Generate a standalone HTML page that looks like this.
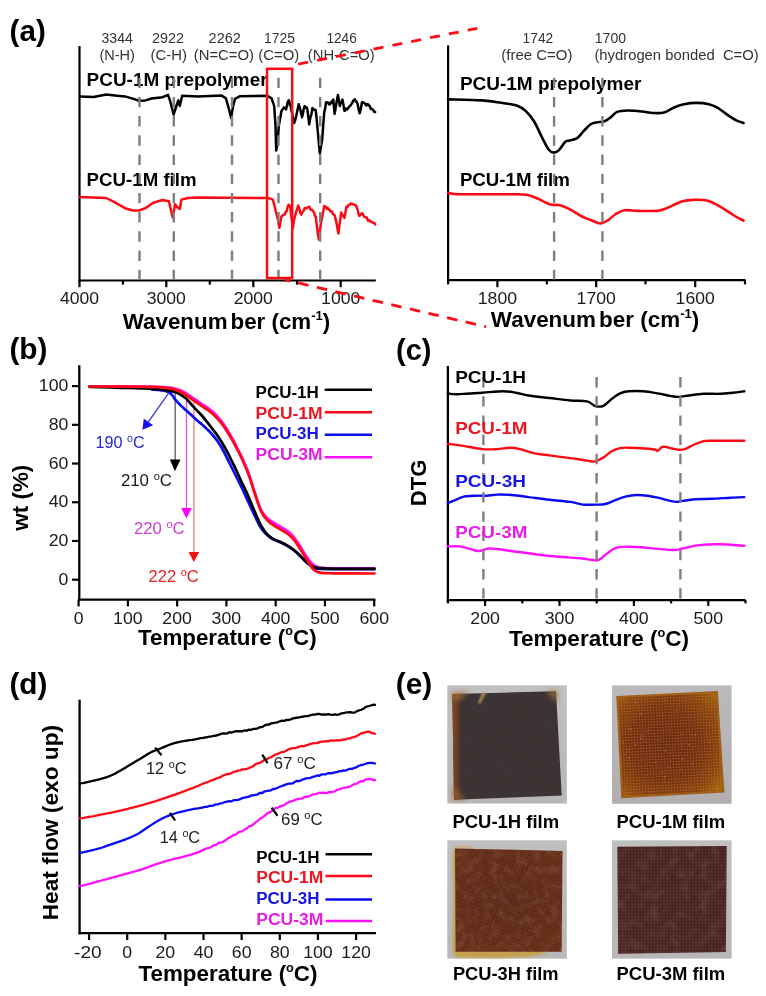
<!DOCTYPE html>
<html><head><meta charset="utf-8"><title>figure</title><style>
html,body{margin:0;padding:0;background:#fff;width:766px;height:996px;overflow:hidden;}
svg{display:block;will-change:transform;}
text{font-family:"Liberation Sans",sans-serif;}
</style></head><body>
<svg width="766" height="996" viewBox="0 0 766 996">
<defs><filter id="blur1" x="-10%" y="-10%" width="120%" height="120%"><feGaussianBlur stdDeviation="0.8"/></filter>
<filter id="blur3" x="-30%" y="-30%" width="160%" height="160%"><feGaussianBlur stdDeviation="2.5"/></filter>
<filter id="soft" x="-5%" y="-5%" width="110%" height="110%"><feGaussianBlur stdDeviation="0.5"/></filter>
<filter id="tex" x="0" y="0" width="100%" height="100%"><feTurbulence type="fractalNoise" baseFrequency="0.35" numOctaves="2" seed="7"/><feColorMatrix type="matrix" values="0 0 0 0 1  0 0 0 0 0.85  0 0 0 0 0.75  0 0 0 1.6 -0.95"/></filter>
<filter id="mottle3" x="0" y="0" width="100%" height="100%"><feTurbulence type="fractalNoise" baseFrequency="0.12" numOctaves="3" seed="5"/><feColorMatrix type="matrix" values="0 0 0 0 0.7  0 0 0 0 0.45  0 0 0 0 0.35  2.2 0 0 0 -0.95"/></filter>
<filter id="mottle4" x="0" y="0" width="100%" height="100%"><feTurbulence type="fractalNoise" baseFrequency="0.1" numOctaves="3" seed="9"/><feColorMatrix type="matrix" values="0 0 0 0 0.6  0 0 0 0 0.4  0 0 0 0 0.4  2.2 0 0 0 -0.95"/></filter>
<filter id="mottle1" x="0" y="0" width="100%" height="100%"><feTurbulence type="fractalNoise" baseFrequency="0.15" numOctaves="2" seed="2"/><feColorMatrix type="matrix" values="0 0 0 0 0.45  0 0 0 0 0.38  0 0 0 0 0.4  2.4 0 0 0 -1.1"/></filter>
<clipPath id="c1"><path d="M452.3 694 L556 691.2 L561.7 795.6 L454 799.7 Z"/></clipPath>
<clipPath id="c3"><path d="M455 848.4 L562.5 850.9 L561.7 951.7 L455.6 951.7 Z"/></clipPath>
<clipPath id="c4"><path d="M617.3 846.8 L726.7 846 L725.9 952 L618.2 953.7 Z"/></clipPath>
<pattern id="dots2" width="2.9" height="2.9" patternUnits="userSpaceOnUse" patternTransform="rotate(-2.5)"><circle cx="1.45" cy="1.45" r="0.72" fill="#e09a5a" fill-opacity="0.5"/></pattern>
<pattern id="grid4" width="3.2" height="3.2" patternUnits="userSpaceOnUse"><circle cx="1.6" cy="1.6" r="0.75" fill="#7e5048" fill-opacity="0.5"/></pattern>
<pattern id="grid3" width="3.6" height="3.6" patternUnits="userSpaceOnUse" patternTransform="rotate(20)"><circle cx="1.8" cy="1.8" r="0.7" fill="#a06048" fill-opacity="0.4"/></pattern>
<pattern id="grid1" width="3.6" height="3.6" patternUnits="userSpaceOnUse" patternTransform="rotate(35)"><circle cx="1.8" cy="1.8" r="0.7" fill="#5e5256" fill-opacity="0.4"/></pattern>
<linearGradient id="bgg" x1="0" y1="0" x2="0" y2="1"><stop offset="0" stop-color="#c0c0c0"/><stop offset="1" stop-color="#b8b6b6"/></linearGradient>
<linearGradient id="bgg2" x1="0" y1="0" x2="0" y2="1"><stop offset="0" stop-color="#bcb9bd"/><stop offset="1" stop-color="#b2aeb0"/></linearGradient>
<linearGradient id="f1l" x1="0" y1="0" x2="1" y2="0"><stop offset="0" stop-color="#8a4a1c" stop-opacity="0.95"/><stop offset="0.04" stop-color="#7a401e" stop-opacity="0.8"/><stop offset="0.1" stop-color="#4a3430" stop-opacity="0"/></linearGradient>
<radialGradient id="f2r" cx="0.45" cy="0.5" r="0.66"><stop offset="0" stop-color="#6a2a12"/><stop offset="0.5" stop-color="#74300f"/><stop offset="0.8" stop-color="#8a440e"/><stop offset="1" stop-color="#a2600e"/></radialGradient>
<radialGradient id="f3r" cx="0.5" cy="0.5" r="0.7"><stop offset="0" stop-color="#5c2a1a"/><stop offset="1" stop-color="#662e18"/></radialGradient></defs>
<rect width="766" height="996" fill="#fff"/>
<text x="9.6" y="40.5" font-size="30" fill="#000" font-weight="bold" textLength="36.2" lengthAdjust="spacingAndGlyphs" >(a)</text>
<line x1="79.5" y1="46" x2="79.5" y2="281.6" stroke="#000" stroke-width="2.2" />
<line x1="78.4" y1="280.5" x2="375.8" y2="280.5" stroke="#000" stroke-width="2.2" />
<line x1="79.5" y1="280.5" x2="79.5" y2="287.2" stroke="#000" stroke-width="2.2" />
<line x1="166.3" y1="280.5" x2="166.3" y2="287.2" stroke="#000" stroke-width="2.2" />
<line x1="253.3" y1="280.5" x2="253.3" y2="287.2" stroke="#000" stroke-width="2.2" />
<line x1="340.7" y1="280.5" x2="340.7" y2="287.2" stroke="#000" stroke-width="2.2" />
<line x1="122.9" y1="280.5" x2="122.9" y2="284.6" stroke="#000" stroke-width="2.2" />
<line x1="209.8" y1="280.5" x2="209.8" y2="284.6" stroke="#000" stroke-width="2.2" />
<line x1="297" y1="280.5" x2="297" y2="284.6" stroke="#000" stroke-width="2.2" />
<text x="79.5" y="304.4" font-size="16.5" fill="#1a1a1a" text-anchor="middle" textLength="39.2" lengthAdjust="spacingAndGlyphs" >4000</text>
<text x="166.3" y="304.4" font-size="16.5" fill="#1a1a1a" text-anchor="middle" textLength="39.2" lengthAdjust="spacingAndGlyphs" >3000</text>
<text x="253.3" y="304.4" font-size="16.5" fill="#1a1a1a" text-anchor="middle" textLength="39.2" lengthAdjust="spacingAndGlyphs" >2000</text>
<text x="340.7" y="304.4" font-size="16.5" fill="#1a1a1a" text-anchor="middle" textLength="39.2" lengthAdjust="spacingAndGlyphs" >1000</text>
<text x="117.2" y="42.8" font-size="14" fill="#333" text-anchor="middle" textLength="31.3" lengthAdjust="spacingAndGlyphs" >3344</text>
<text x="117.2" y="60" font-size="14" fill="#333" text-anchor="middle" textLength="35.5" lengthAdjust="spacingAndGlyphs" >(N-H)</text>
<text x="168" y="42.8" font-size="14" fill="#333" text-anchor="middle" textLength="32" lengthAdjust="spacingAndGlyphs" >2922</text>
<text x="168.8" y="60" font-size="14" fill="#333" text-anchor="middle" textLength="36.4" lengthAdjust="spacingAndGlyphs" >(C-H)</text>
<text x="224.7" y="42.8" font-size="14" fill="#333" text-anchor="middle" textLength="32.2" lengthAdjust="spacingAndGlyphs" >2262</text>
<text x="223.9" y="60" font-size="14" fill="#333" text-anchor="middle" textLength="60.3" lengthAdjust="spacingAndGlyphs" >(N=C=O)</text>
<text x="279.4" y="42.8" font-size="14" fill="#333" text-anchor="middle" textLength="31" lengthAdjust="spacingAndGlyphs" >1725</text>
<text x="278.7" y="60" font-size="14" fill="#333" text-anchor="middle" textLength="40.9" lengthAdjust="spacingAndGlyphs" >(C=O)</text>
<text x="341.6" y="42.8" font-size="14" fill="#333" text-anchor="middle" textLength="30.3" lengthAdjust="spacingAndGlyphs" >1246</text>
<text x="341.3" y="60" font-size="14" fill="#333" text-anchor="middle" textLength="67" lengthAdjust="spacingAndGlyphs" >(NH-C=O)</text>
<text x="86.6" y="86.2" font-size="17.5" fill="#000" font-weight="bold" textLength="181" lengthAdjust="spacingAndGlyphs" >PCU-1M prepolymer</text>
<text x="86.6" y="186.4" font-size="17.5" fill="#000" font-weight="bold" textLength="110" lengthAdjust="spacingAndGlyphs" >PCU-1M film</text>
<path d="M80 96.5 L93.7 96.9 L106.2 94.4 L117.2 95.7 L125 96.4 L134.4 99.1 L139.1 100.7 L145.4 100.4 L151.6 98.5 L162.6 97.2 L168.1 94.9 L170.4 101.9 L173.6 114.5 L176.7 105 L178.3 100.4 L179.8 105.8 L182.2 95.7 L198 96.4 L221.3 95.4 L225.9 98.3 L229.2 110 L231.1 117.9 L233.1 106.1 L235 98.9 L239.6 96.3 L267 95.7 L271.6 98.3 L274.2 106.1 L275.5 125.7 L276.2 150.5 L277.7 141.4 L278.8 125.7 L281.4 111.3 L284 107.4 L285 107.66 L286 109.4 L286.95 105.87 L287.9 101.5 L288.9 100.2 L289.9 104.1 L290.9 107.4 L291.7 111.28 L292.5 114.63 L293.3 119.82 L294.1 123.1 L295.1 120.53 L296.1 116.6 L296.97 112.49 L297.83 108.34 L298.7 104.2 L299.52 106.87 L300.35 109.61 L301.18 113.67 L302 117.2 L302.87 113.69 L303.73 108.85 L304.6 106.1 L305.47 107.61 L306.33 107.24 L307.2 108.7 L308.2 115.96 L309.2 124.4 L310.27 117.96 L311.33 114.63 L312.4 108.1 L313.22 109.1 L314.05 109.88 L314.88 109.78 L315.7 110 L316.65 118.77 L317.6 129.6 L318.7 141.17 L319.8 153.5 L321 146.49 L322.2 139.5 L323.2 125.2 L324.2 112.6 L325.15 108.39 L326.1 102.2 L327.08 102.41 L328.05 102.44 L329.02 104.4 L330 104.2 L330.82 102.22 L331.65 102.84 L332.48 100.65 L333.3 99.6 L334.6 113.9 L335.43 109.29 L336.25 104.1 L337.07 99.69 L337.9 95 L338.85 99.86 L339.8 106.1 L340.67 102.92 L341.53 102.57 L342.4 99.6 L343.4 104.57 L344.4 110.7 L345.32 110.54 L346.24 108.5 L347.16 109.39 L348.08 108.45 L349 106.8 L349.83 106.29 L350.66 105.24 L351.49 103.76 L352.31 103.02 L353.14 100.61 L353.97 100.32 L354.8 99.3 L355.7 101.42 L356.6 101.44 L357.5 103.5 L358.6 109.33 L359.7 113.3 L360.85 108.6 L362 102.2 L362.82 102.41 L363.65 102.73 L364.48 103.33 L365.3 103.6 L366.12 105.35 L366.95 104.43 L367.78 104.05 L368.6 105.5 L369.41 105.42 L370.23 107.6 L371.04 109.02 L371.85 108.74 L372.66 109.54 L373.48 110.49 L374.29 111.73 L375.1 112" fill="none" stroke="#000" stroke-width="2.5" stroke-linejoin="round" stroke-linecap="round" />
<path d="M80 196.9 L106.2 198 L114 201.9 L125 208.2 L132.8 210.5 L139.1 210.5 L145.4 208.2 L153.2 202.7 L162.6 200 L168.9 201.2 L171.2 211.3 L172.8 217.6 L175.1 204.3 L177.5 207.4 L179.8 209 L181.4 199.6 L187.7 198 L198 197.5 L268.3 198 L272.9 199.6 L275.5 210 L278.1 220.5 L279.4 227.7 L281.4 216.6 L284 214.6 L284.87 214.51 L285.73 211.61 L286.6 211.3 L287.6 207 L288.6 204.8 L290.2 206.1 L291.07 214.6 L291.93 220.21 L292.8 228.3 L293.8 221.62 L294.8 216.6 L295.62 214.16 L296.45 210.71 L297.28 209.13 L298.1 205.5 L299.17 207.94 L300.23 212.58 L301.3 214.6 L302.12 212.58 L302.95 211.57 L303.78 210.68 L304.6 208.1 L305.58 208.18 L306.55 208.38 L307.52 207.58 L308.5 206.8 L309.42 206.71 L310.34 209.44 L311.26 209.7 L312.18 209.98 L313.1 211.3 L313.97 212.38 L314.83 215.6 L315.7 216.6 L316.7 224.38 L317.7 232.76 L318.7 239.4 L319.8 231.85 L320.9 223.1 L321.72 219.86 L322.55 214.75 L323.38 210.79 L324.2 206.1 L325.07 206.9 L325.93 206.67 L326.8 208.75 L327.67 207.89 L328.53 209.47 L329.4 209.4 L330.27 211.37 L331.13 211.67 L332 211.51 L332.87 213.98 L333.73 214.6 L334.6 215.2 L335.58 219.08 L336.55 223.36 L337.52 228.99 L338.5 233.5 L339.37 225.5 L340.23 220.5 L341.1 212.6 L341.93 213.94 L342.75 215.29 L343.57 216.38 L344.4 217.9 L345.4 212.7 L346.4 206.8 L347.27 207.17 L348.13 205.28 L349 204.87 L349.87 204.78 L350.73 203.6 L351.6 203.5 L352.5 204.11 L353.4 204.39 L354.3 204.55 L355.2 205.48 L356.1 205.5 L356.93 208.16 L357.75 209.79 L358.57 214.39 L359.4 215.9 L360.27 214.72 L361.13 214.02 L362 213.3 L362.82 213.99 L363.65 216.04 L364.48 216.99 L365.3 216.93 L366.12 217.58 L366.95 217.81 L367.78 220.47 L368.6 220.5 L369.41 220.26 L370.23 221.58 L371.04 221.63 L371.85 222.07 L372.66 222.62 L373.48 222.75 L374.29 222.89 L375.1 224.4" fill="none" stroke="#ff0a14" stroke-width="2.5" stroke-linejoin="round" stroke-linecap="round" />
<line x1="139.5" y1="77.7" x2="139.5" y2="279.5" stroke="#7f7f7f" stroke-width="2.4" stroke-dasharray="10.4 8.8" stroke-dashoffset="0"/>
<line x1="173.8" y1="77.7" x2="173.8" y2="279.5" stroke="#7f7f7f" stroke-width="2.4" stroke-dasharray="10.4 8.8" stroke-dashoffset="0"/>
<line x1="232" y1="77.7" x2="232" y2="279.5" stroke="#7f7f7f" stroke-width="2.4" stroke-dasharray="10.4 8.8" stroke-dashoffset="0"/>
<line x1="278.5" y1="77.7" x2="278.5" y2="279.5" stroke="#7f7f7f" stroke-width="2.4" stroke-dasharray="10.4 8.8" stroke-dashoffset="0"/>
<line x1="320.2" y1="77.7" x2="320.2" y2="279.5" stroke="#7f7f7f" stroke-width="2.4" stroke-dasharray="10.4 8.8" stroke-dashoffset="0"/>
<rect x="267" y="68.8" width="25.2" height="209.2" fill="none" stroke="#ff0a14" stroke-width="2.5"/>
<line x1="292.2" y1="65.3" x2="477.3" y2="28.3" stroke="#ff0a14" stroke-width="2.8" stroke-dasharray="10 9.2" stroke-dashoffset="13"/>
<line x1="285" y1="279.9" x2="486" y2="326.7" stroke="#ff0a14" stroke-width="2.8" stroke-dasharray="10.5 8.6" stroke-dashoffset="5.5"/>
<text x="122.8" y="328.8" font-size="22.3" fill="#000" font-weight="bold" textLength="207.5" lengthAdjust="spacingAndGlyphs" >Wavenum<tspan dx="3">ber</tspan> (cm<tspan font-size="13" dy="-9">-1</tspan><tspan dy="9">)</tspan></text>
<line x1="448.1" y1="45.4" x2="448.1" y2="281.3" stroke="#000" stroke-width="2.2" />
<line x1="447" y1="280.2" x2="745.5" y2="280.2" stroke="#000" stroke-width="2.2" />
<line x1="497.4" y1="280.2" x2="497.4" y2="287.2" stroke="#000" stroke-width="2.2" />
<line x1="596.2" y1="280.2" x2="596.2" y2="287.2" stroke="#000" stroke-width="2.2" />
<line x1="695.2" y1="280.2" x2="695.2" y2="287.2" stroke="#000" stroke-width="2.2" />
<line x1="448.1" y1="280.2" x2="448.1" y2="284.4" stroke="#000" stroke-width="2.2" />
<line x1="546.8" y1="280.2" x2="546.8" y2="284.4" stroke="#000" stroke-width="2.2" />
<line x1="645.5" y1="280.2" x2="645.5" y2="284.4" stroke="#000" stroke-width="2.2" />
<line x1="745" y1="280.2" x2="745" y2="284.4" stroke="#000" stroke-width="2.2" />
<text x="497.4" y="304.4" font-size="16.5" fill="#1a1a1a" text-anchor="middle" textLength="39.2" lengthAdjust="spacingAndGlyphs" >1800</text>
<text x="596.2" y="304.4" font-size="16.5" fill="#1a1a1a" text-anchor="middle" textLength="39.2" lengthAdjust="spacingAndGlyphs" >1700</text>
<text x="695.2" y="304.4" font-size="16.5" fill="#1a1a1a" text-anchor="middle" textLength="39.2" lengthAdjust="spacingAndGlyphs" >1600</text>
<text x="537.9" y="42.7" font-size="14" fill="#333" text-anchor="middle" textLength="30.7" lengthAdjust="spacingAndGlyphs" >1742</text>
<text x="536.9" y="60.2" font-size="14" fill="#333" text-anchor="middle" textLength="71.2" lengthAdjust="spacingAndGlyphs" >(free C=O)</text>
<text x="594.8" y="42.7" font-size="14" fill="#333" textLength="31.3" lengthAdjust="spacingAndGlyphs" >1700</text>
<text x="594.4" y="60.2" font-size="14" fill="#333" textLength="164.3" lengthAdjust="spacingAndGlyphs" >(hydrogen bonded&#160;&#160;C=O)</text>
<text x="459.9" y="90.2" font-size="17.5" fill="#000" font-weight="bold" textLength="181.5" lengthAdjust="spacingAndGlyphs" >PCU-1M prepolymer</text>
<text x="459.9" y="185.8" font-size="17.5" fill="#000" font-weight="bold" textLength="110" lengthAdjust="spacingAndGlyphs" >PCU-1M film</text>
<path d="M448 99.4 C453.63 99.57 472.68 99.8 481.8 100.4 C490.92 101 496.78 102.12 502.7 103 C508.62 103.88 513.48 104.38 517.3 105.7 C521.12 107.02 522.82 108.3 525.6 110.9 C528.38 113.5 531.22 116.78 534 121.3 C536.78 125.82 539.87 133.3 542.3 138 C544.73 142.7 546.68 147.07 548.6 149.5 C550.52 151.93 552.07 152.5 553.8 152.6 C555.53 152.7 557.08 151.9 559 150.1 C560.92 148.3 563.55 143.4 565.3 141.8 C567.05 140.2 567.58 141.07 569.5 140.5 C571.42 139.93 574.38 140.03 576.8 138.4 C579.22 136.77 581.75 133.02 584 130.7 C586.25 128.38 588.25 125.88 590.3 124.5 C592.35 123.12 593.92 122.93 596.3 122.4 C598.68 121.87 602.17 122.18 604.6 121.3 C607.03 120.42 608.8 118.67 610.9 117.1 C613 115.53 614.42 113 617.2 111.9 C619.98 110.8 623.43 110.57 627.6 110.5 C631.77 110.43 638.03 111.08 642.2 111.5 C646.37 111.92 648.95 112.82 652.6 113 C656.25 113.18 660.62 113.48 664.1 112.6 C667.58 111.72 670.18 109.1 673.5 107.7 C676.82 106.3 680.17 105 684 104.2 C687.83 103.4 692.33 102.9 696.5 102.9 C700.67 102.9 705.52 103.4 709 104.2 C712.48 105 714.27 105.88 717.4 107.7 C720.53 109.52 724.67 113 727.8 115.1 C730.93 117.2 733.58 118.98 736.2 120.3 C738.82 121.62 742.28 122.55 743.5 123" fill="none" stroke="#000" stroke-width="2.6" stroke-linejoin="round" stroke-linecap="round" />
<path d="M448 192.9 C450.15 193.12 450.05 193.98 460.9 194.2 C471.75 194.42 501.97 194.07 513.1 194.2 C524.23 194.33 523.52 194.23 527.7 195 C531.88 195.77 534.37 197.2 538.2 198.8 C542.03 200.4 547.23 203.55 550.7 204.6 C554.17 205.65 555.87 204.33 559 205.1 C562.13 205.87 565.67 207.3 569.5 209.2 C573.33 211.1 578.58 214.75 582 216.5 C585.42 218.25 586.93 218.55 590 219.7 C593.07 220.85 597.27 223.4 600.4 223.4 C603.53 223.4 606.35 221.18 608.8 219.7 C611.25 218.22 612.48 216.07 615.1 214.5 C617.72 212.93 620.68 210.9 624.5 210.3 C628.32 209.7 632.62 210.8 638 210.9 C643.38 211 652.27 211.25 656.8 210.9 C661.33 210.55 661.02 210.37 665.2 208.8 C669.38 207.23 677.03 203 681.9 201.5 C686.77 200 690.23 199.97 694.4 199.8 C698.57 199.63 702.73 199.45 706.9 200.5 C711.07 201.55 714.88 203.6 719.4 206.1 C723.92 208.6 729.98 213.07 734 215.5 C738.02 217.93 741.92 219.83 743.5 220.7" fill="none" stroke="#ff0a14" stroke-width="2.6" stroke-linejoin="round" stroke-linecap="round" />
<line x1="554.1" y1="77.7" x2="554.1" y2="279.5" stroke="#7f7f7f" stroke-width="2.4" stroke-dasharray="10.4 8.8" stroke-dashoffset="0"/>
<line x1="602.4" y1="77.7" x2="602.4" y2="279.5" stroke="#7f7f7f" stroke-width="2.4" stroke-dasharray="10.4 8.8" stroke-dashoffset="0"/>
<text x="490.8" y="327.2" font-size="22.3" fill="#000" font-weight="bold" textLength="208.5" lengthAdjust="spacingAndGlyphs" >Wavenum<tspan dx="3">ber</tspan> (cm<tspan font-size="13" dy="-9">-1</tspan><tspan dy="9">)</tspan></text>
<text x="9.4" y="359.2" font-size="30" fill="#000" font-weight="bold" textLength="38" lengthAdjust="spacingAndGlyphs" >(b)</text>
<line x1="79.3" y1="365.2" x2="79.3" y2="600.7" stroke="#000" stroke-width="2.3" />
<line x1="78.2" y1="599.6" x2="375.4" y2="599.6" stroke="#000" stroke-width="2.3" />
<line x1="72" y1="579.7" x2="79.3" y2="579.7" stroke="#000" stroke-width="2.2" />
<text x="68.4" y="584.9" font-size="16.5" fill="#1a1a1a" text-anchor="end" textLength="9.85" lengthAdjust="spacingAndGlyphs" >0</text>
<line x1="72" y1="540.98" x2="79.3" y2="540.98" stroke="#000" stroke-width="2.2" />
<text x="68.4" y="546.18" font-size="16.5" fill="#1a1a1a" text-anchor="end" textLength="19.7" lengthAdjust="spacingAndGlyphs" >20</text>
<line x1="72" y1="502.26" x2="79.3" y2="502.26" stroke="#000" stroke-width="2.2" />
<text x="68.4" y="507.46" font-size="16.5" fill="#1a1a1a" text-anchor="end" textLength="19.7" lengthAdjust="spacingAndGlyphs" >40</text>
<line x1="72" y1="463.54" x2="79.3" y2="463.54" stroke="#000" stroke-width="2.2" />
<text x="68.4" y="468.74" font-size="16.5" fill="#1a1a1a" text-anchor="end" textLength="19.7" lengthAdjust="spacingAndGlyphs" >60</text>
<line x1="72" y1="424.82" x2="79.3" y2="424.82" stroke="#000" stroke-width="2.2" />
<text x="68.4" y="430.02" font-size="16.5" fill="#1a1a1a" text-anchor="end" textLength="19.7" lengthAdjust="spacingAndGlyphs" >80</text>
<line x1="72" y1="386.1" x2="79.3" y2="386.1" stroke="#000" stroke-width="2.2" />
<text x="68.4" y="391.3" font-size="16.5" fill="#1a1a1a" text-anchor="end" textLength="29.55" lengthAdjust="spacingAndGlyphs" >100</text>
<line x1="78.6" y1="599.6" x2="78.6" y2="606.4" stroke="#000" stroke-width="2.2" />
<text x="78.6" y="624" font-size="16.5" fill="#1a1a1a" text-anchor="middle" textLength="9.85" lengthAdjust="spacingAndGlyphs" >0</text>
<line x1="127.87" y1="599.6" x2="127.87" y2="606.4" stroke="#000" stroke-width="2.2" />
<text x="127.87" y="624" font-size="16.5" fill="#1a1a1a" text-anchor="middle" textLength="29.55" lengthAdjust="spacingAndGlyphs" >100</text>
<line x1="177.14" y1="599.6" x2="177.14" y2="606.4" stroke="#000" stroke-width="2.2" />
<text x="177.14" y="624" font-size="16.5" fill="#1a1a1a" text-anchor="middle" textLength="29.55" lengthAdjust="spacingAndGlyphs" >200</text>
<line x1="226.41" y1="599.6" x2="226.41" y2="606.4" stroke="#000" stroke-width="2.2" />
<text x="226.41" y="624" font-size="16.5" fill="#1a1a1a" text-anchor="middle" textLength="29.55" lengthAdjust="spacingAndGlyphs" >300</text>
<line x1="275.68" y1="599.6" x2="275.68" y2="606.4" stroke="#000" stroke-width="2.2" />
<text x="275.68" y="624" font-size="16.5" fill="#1a1a1a" text-anchor="middle" textLength="29.55" lengthAdjust="spacingAndGlyphs" >400</text>
<line x1="324.95" y1="599.6" x2="324.95" y2="606.4" stroke="#000" stroke-width="2.2" />
<text x="324.95" y="624" font-size="16.5" fill="#1a1a1a" text-anchor="middle" textLength="29.55" lengthAdjust="spacingAndGlyphs" >500</text>
<line x1="374.22" y1="599.6" x2="374.22" y2="606.4" stroke="#000" stroke-width="2.2" />
<text x="374.22" y="624" font-size="16.5" fill="#1a1a1a" text-anchor="middle" textLength="29.55" lengthAdjust="spacingAndGlyphs" >600</text>
<line x1="175.2" y1="393" x2="175.2" y2="462" stroke="#6a6a6a" stroke-width="1.4" />
<path d="M169.9 459.4 L180.5 459.4 L174.9 471.2 Z" fill="#000"/>
<line x1="186.5" y1="398" x2="186.5" y2="510" stroke="#e050e0" stroke-width="1.3" />
<path d="M181.2 508 L191.8 508 L186.4 518.4 Z" fill="#ff00ff"/>
<line x1="193.9" y1="399" x2="193.9" y2="554" stroke="#e87a7a" stroke-width="1.3" />
<path d="M188.6 552 L199.2 552 L193.8 562 Z" fill="#f01010"/>
<line x1="168.3" y1="393.6" x2="147.5" y2="423" stroke="#4040e0" stroke-width="1.3" />
<path d="M142.4 429.8 L143.8 418.7 L153.2 425.2 Z" fill="#1010f0"/>
<path d="M89.4 386.3 C99.5 386.33 136.5 386.28 150 386.5 C163.5 386.72 165.25 386.92 170.4 387.6 C175.55 388.28 178.28 389.65 180.9 390.6 C183.52 391.55 184.37 392.27 186.1 393.3 C187.83 394.33 189.55 395.62 191.3 396.8 C193.05 397.98 194.85 399.2 196.6 400.4 C198.35 401.6 200.07 402.85 201.8 404 C203.53 405.15 205.27 406.08 207 407.3 C208.73 408.52 210.47 409.77 212.2 411.3 C213.93 412.83 215.65 414.58 217.4 416.5 C219.15 418.42 220.95 420.38 222.7 422.8 C224.45 425.22 226.17 428.13 227.9 431 C229.63 433.87 231.53 437.17 233.1 440 C234.67 442.83 235.78 445 237.3 448 C238.82 451 240.3 453.75 242.2 458 C244.1 462.25 246.63 467.83 248.7 473.5 C250.77 479.17 252.53 485.92 254.6 492 C256.67 498.08 258.93 505.58 261.1 510 C263.27 514.42 265.42 516.32 267.6 518.5 C269.78 520.68 272.02 521.68 274.2 523.1 C276.38 524.52 278.53 525.7 280.7 527 C282.87 528.3 285.03 529.27 287.2 530.9 C289.37 532.53 291.52 534.18 293.7 536.8 C295.88 539.42 298.12 543.23 300.3 546.6 C302.48 549.97 304.63 553.95 306.8 557 C308.97 560.05 311.12 563.15 313.3 564.9 C315.48 566.65 316.28 566.93 319.9 567.5 C323.52 568.07 325.9 568.17 335 568.3 C344.1 568.43 367.92 568.3 374.5 568.3" fill="none" stroke="#ff10ff" stroke-width="2.7" stroke-linejoin="round" stroke-linecap="round" />
<path d="M152 389.6 C153.33 389.7 157.8 389.97 160 390.2 C162.2 390.43 163.63 390.62 165.2 391 C166.77 391.38 168.18 391.75 169.4 392.5 C170.62 393.25 171.45 394.22 172.5 395.5 C173.55 396.78 174.3 398.52 175.7 400.2 C177.1 401.88 179.17 403.92 180.9 405.6 C182.63 407.28 184.37 408.73 186.1 410.3 C187.83 411.87 189.55 413.38 191.3 415 C193.05 416.62 194.85 418.47 196.6 420 C198.35 421.53 200.07 422.68 201.8 424.2 C203.53 425.72 205.27 427.38 207 429.1 C208.73 430.82 210.47 432.52 212.2 434.5 C213.93 436.48 215.65 438.5 217.4 441 C219.15 443.5 220.73 445.92 222.7 449.5 C224.67 453.08 227.03 458.17 229.2 462.5 C231.37 466.83 233.53 471.17 235.7 475.5 C237.87 479.83 240.58 485.13 242.2 488.5 C243.82 491.87 243.55 491.68 245.4 495.7 C247.25 499.72 250.68 507.17 253.3 512.6 C255.92 518.03 258.28 524.13 261.1 528.3 C263.92 532.47 266.93 535.22 270.2 537.6 C273.47 539.98 277.87 541.23 280.7 542.6 C283.53 543.97 285.03 544.52 287.2 545.8 C289.37 547.08 291.52 548.57 293.7 550.3 C295.88 552.03 298.12 554.13 300.3 556.2 C302.48 558.27 304.63 560.85 306.8 562.7 C308.97 564.55 311.12 566.28 313.3 567.3 C315.48 568.32 309.7 568.48 319.9 568.8 C330.1 569.12 365.4 569.13 374.5 569.2" fill="none" stroke="#0a0af5" stroke-width="2.7" stroke-linejoin="round" stroke-linecap="round" />
<path d="M89.4 386.8 C93.83 386.93 105.9 387.3 116 387.6 C126.1 387.9 142.67 388.27 150 388.6 C157.33 388.93 156.6 389.23 160 389.6 C163.4 389.97 167.78 390.35 170.4 390.8 C173.02 391.25 173.95 391.62 175.7 392.3 C177.45 392.98 179.17 393.85 180.9 394.9 C182.63 395.95 184.37 397.03 186.1 398.6 C187.83 400.17 189.55 402.37 191.3 404.3 C193.05 406.23 194.85 408.33 196.6 410.2 C198.35 412.07 200.07 413.57 201.8 415.5 C203.53 417.43 205.27 419.62 207 421.8 C208.73 423.98 210.47 426.33 212.2 428.6 C213.93 430.87 215.65 432.88 217.4 435.4 C219.15 437.92 220.95 440.75 222.7 443.7 C224.45 446.65 226.43 450.3 227.9 453.1 C229.37 455.9 230.2 457.85 231.5 460.5 C232.8 463.15 234.25 465.92 235.7 469 C237.15 472.08 238.68 475.75 240.2 479 C241.72 482.25 243.48 485.72 244.8 488.5 C246.12 491.28 246.47 491.9 248.1 495.7 C249.73 499.5 252.43 506.3 254.6 511.3 C256.77 516.3 258.93 521.78 261.1 525.7 C263.27 529.62 265.42 532.52 267.6 534.8 C269.78 537.08 272.02 538.2 274.2 539.4 C276.38 540.6 278.53 541.02 280.7 542 C282.87 542.98 285.03 544 287.2 545.3 C289.37 546.6 291.52 548.07 293.7 549.8 C295.88 551.53 298.12 553.63 300.3 555.7 C302.48 557.77 304.63 560.35 306.8 562.2 C308.97 564.05 311.12 565.82 313.3 566.8 C315.48 567.78 316.28 567.77 319.9 568.1 C323.52 568.43 325.9 568.68 335 568.8 C344.1 568.92 367.92 568.8 374.5 568.8" fill="none" stroke="#000" stroke-width="2.7" stroke-linejoin="round" stroke-linecap="round" />
<path d="M89.4 386.5 C99.5 386.57 138.23 386.77 150 386.9 C161.77 387.03 156.6 387.05 160 387.3 C163.4 387.55 167.78 387.97 170.4 388.4 C173.02 388.83 173.95 389.3 175.7 389.9 C177.45 390.5 179.17 391.13 180.9 392 C182.63 392.87 184.37 393.97 186.1 395.1 C187.83 396.23 189.55 397.57 191.3 398.8 C193.05 400.03 194.85 401.28 196.6 402.5 C198.35 403.72 200.07 404.95 201.8 406.1 C203.53 407.25 205.27 408.18 207 409.4 C208.73 410.62 210.47 411.87 212.2 413.4 C213.93 414.93 215.65 416.68 217.4 418.6 C219.15 420.52 220.95 422.53 222.7 424.9 C224.45 427.27 226.17 430.03 227.9 432.8 C229.63 435.57 231.53 438.72 233.1 441.5 C234.67 444.28 235.78 446.5 237.3 449.5 C238.82 452.5 240.3 455.27 242.2 459.5 C244.1 463.73 246.63 469.32 248.7 474.9 C250.77 480.48 252.53 486.93 254.6 493 C256.67 499.07 258.93 506.72 261.1 511.3 C263.27 515.88 265.42 518.1 267.6 520.5 C269.78 522.9 272.02 524.18 274.2 525.7 C276.38 527.22 278.53 528.3 280.7 529.6 C282.87 530.9 285.03 531.87 287.2 533.5 C289.37 535.13 291.52 536.78 293.7 539.4 C295.88 542.02 298.12 545.83 300.3 549.2 C302.48 552.57 304.63 556.25 306.8 559.6 C308.97 562.95 311.12 567.12 313.3 569.3 C315.48 571.48 316.28 572.03 319.9 572.7 C323.52 573.37 325.9 573.17 335 573.3 C344.1 573.43 367.92 573.47 374.5 573.5" fill="none" stroke="#ff0a14" stroke-width="2.7" stroke-linejoin="round" stroke-linecap="round" />
<text x="255.6" y="398.2" font-size="16" fill="#000" font-weight="bold" textLength="63.2" lengthAdjust="spacingAndGlyphs" >PCU-1H</text>
<line x1="324.7" y1="389.8" x2="372" y2="389.8" stroke="#000" stroke-width="2.6" />
<text x="255.6" y="419" font-size="16" fill="#ea1620" font-weight="bold" textLength="67.1" lengthAdjust="spacingAndGlyphs" >PCU-1M</text>
<line x1="324.7" y1="412.2" x2="372" y2="412.2" stroke="#ff0a14" stroke-width="2.6" />
<text x="255.6" y="439.4" font-size="16" fill="#1616e2" font-weight="bold" textLength="63.2" lengthAdjust="spacingAndGlyphs" >PCU-3H</text>
<line x1="324.7" y1="434.7" x2="372" y2="434.7" stroke="#0a0af5" stroke-width="2.6" />
<text x="255.6" y="459.8" font-size="16" fill="#e41ee4" font-weight="bold" textLength="67.1" lengthAdjust="spacingAndGlyphs" >PCU-3M</text>
<line x1="324.7" y1="457.2" x2="372" y2="457.2" stroke="#ff10ff" stroke-width="2.6" />
<text x="95.5" y="447.9" font-size="16" fill="#2626d6" textLength="49.1" lengthAdjust="spacingAndGlyphs" >190 <tspan font-size="10.5" dy="-6">o</tspan><tspan dy="6">C</tspan></text>
<text x="120.9" y="486" font-size="16" fill="#1a1a1a" textLength="51.1" lengthAdjust="spacingAndGlyphs" >210 <tspan font-size="10.5" dy="-6">o</tspan><tspan dy="6">C</tspan></text>
<text x="134" y="533.5" font-size="16" fill="#d23ad2" textLength="50.6" lengthAdjust="spacingAndGlyphs" >220 <tspan font-size="10.5" dy="-6">o</tspan><tspan dy="6">C</tspan></text>
<text x="148.6" y="582" font-size="16" fill="#e62222" textLength="50.2" lengthAdjust="spacingAndGlyphs" >222 <tspan font-size="10.5" dy="-6">o</tspan><tspan dy="6">C</tspan></text>
<text x="0" y="0" font-size="22.3" fill="#000" font-weight="bold" text-anchor="middle" textLength="66" lengthAdjust="spacingAndGlyphs" transform="translate(28.2 497.7) rotate(-90)">wt (%)</text>
<text x="138" y="644.8" font-size="22" fill="#000" font-weight="bold" textLength="178.6" lengthAdjust="spacingAndGlyphs" >Temperature (<tspan font-size="12.5" dy="-9.5">o</tspan><tspan dy="9.5">C)</tspan></text>
<text x="396" y="360" font-size="30" fill="#000" font-weight="bold" textLength="35.5" lengthAdjust="spacingAndGlyphs" >(c)</text>
<line x1="447.9" y1="366" x2="447.9" y2="601.3" stroke="#000" stroke-width="2.3" />
<line x1="446.8" y1="600.2" x2="745.5" y2="600.2" stroke="#000" stroke-width="2.3" />
<line x1="485.1" y1="600.2" x2="485.1" y2="606" stroke="#000" stroke-width="2.2" />
<text x="485.1" y="623.6" font-size="16.5" fill="#1a1a1a" text-anchor="middle" textLength="29.6" lengthAdjust="spacingAndGlyphs" >200</text>
<line x1="559.5" y1="600.2" x2="559.5" y2="606" stroke="#000" stroke-width="2.2" />
<text x="559.5" y="623.6" font-size="16.5" fill="#1a1a1a" text-anchor="middle" textLength="29.6" lengthAdjust="spacingAndGlyphs" >300</text>
<line x1="633.9" y1="600.2" x2="633.9" y2="606" stroke="#000" stroke-width="2.2" />
<text x="633.9" y="623.6" font-size="16.5" fill="#1a1a1a" text-anchor="middle" textLength="29.6" lengthAdjust="spacingAndGlyphs" >400</text>
<line x1="708.3" y1="600.2" x2="708.3" y2="606" stroke="#000" stroke-width="2.2" />
<text x="708.3" y="623.6" font-size="16.5" fill="#1a1a1a" text-anchor="middle" textLength="29.6" lengthAdjust="spacingAndGlyphs" >500</text>
<line x1="447.9" y1="600.2" x2="447.9" y2="603.4" stroke="#000" stroke-width="2.2" />
<line x1="522.3" y1="600.2" x2="522.3" y2="603.4" stroke="#000" stroke-width="2.2" />
<line x1="596.7" y1="600.2" x2="596.7" y2="603.4" stroke="#000" stroke-width="2.2" />
<line x1="671.1" y1="600.2" x2="671.1" y2="603.4" stroke="#000" stroke-width="2.2" />
<line x1="745.5" y1="600.2" x2="745.5" y2="603.4" stroke="#000" stroke-width="2.2" />
<path d="M447.8 393.4 C449.07 393.53 452.38 394.13 455.4 394.2 C458.42 394.27 461.37 394.05 465.9 393.8 C470.43 393.55 476.33 393.12 482.6 392.7 C488.87 392.28 497.93 391.3 503.5 391.3 C509.07 391.3 511.83 392 516 392.7 C520.17 393.4 522.93 394.62 528.5 395.5 C534.07 396.38 542.43 397.17 549.4 398 C556.37 398.83 564.03 399.95 570.3 400.5 C576.57 401.05 582.83 400.38 587 401.3 C591.17 402.22 592.57 405.23 595.3 406 C598.03 406.77 600.67 407.07 603.4 405.9 C606.13 404.73 608.92 401.08 611.7 399 C614.48 396.92 617.32 394.68 620.1 393.4 C622.88 392.12 624.58 391.65 628.4 391.3 C632.22 390.95 638.12 390.95 643 391.3 C647.88 391.65 653.17 392.63 657.7 393.4 C662.23 394.17 666.73 395.32 670.2 395.9 C673.67 396.48 675.37 396.97 678.5 396.9 C681.63 396.83 684.82 396.02 689 395.5 C693.18 394.98 698.38 394.08 703.6 393.8 C708.82 393.52 715.43 393.98 720.3 393.8 C725.17 393.62 728.8 393.12 732.8 392.7 C736.8 392.28 742.38 391.53 744.3 391.3" fill="none" stroke="#000" stroke-width="2.4" stroke-linejoin="round" stroke-linecap="round" />
<path d="M447.8 443.9 C450.12 444.18 455.9 444.73 461.7 445.6 C467.5 446.47 476.68 448.52 482.6 449.1 C488.52 449.68 492.68 449.33 497.2 449.1 C501.72 448.87 505.87 447.7 509.7 447.7 C513.53 447.7 516.02 448.17 520.2 449.1 C524.38 450.03 529.93 452.25 534.8 453.3 C539.67 454.35 543.48 454.6 549.4 455.4 C555.32 456.2 564.03 457.23 570.3 458.1 C576.57 458.97 582.83 460.03 587 460.6 C591.17 461.17 592.57 462.02 595.3 461.5 C598.03 460.98 600.67 459.22 603.4 457.5 C606.13 455.78 608.92 452.77 611.7 451.2 C614.48 449.63 617.32 448.68 620.1 448.1 C622.88 447.52 624.23 447.63 628.4 447.7 C632.57 447.77 640.58 448.17 645.1 448.5 C649.62 448.83 653.4 449.28 655.5 449.7 C657.6 450.12 656.65 451.42 657.7 451 C658.75 450.58 660.42 447.87 661.8 447.2 C663.18 446.53 664.27 446.78 666 447 C667.73 447.22 670.12 448.05 672.2 448.5 C674.28 448.95 676.4 449.6 678.5 449.7 C680.6 449.8 682.37 449.88 684.8 449.1 C687.23 448.32 690.32 446.22 693.1 445 C695.88 443.78 698.7 442.5 701.5 441.8 C704.3 441.1 702.77 440.97 709.9 440.8 C717.03 440.63 738.57 440.8 744.3 440.8" fill="none" stroke="#ff0a14" stroke-width="2.4" stroke-linejoin="round" stroke-linecap="round" />
<path d="M447.8 503 C448.73 502.65 450.73 501.95 453.4 500.9 C456.07 499.85 459.98 497.57 463.8 496.7 C467.62 495.83 472.47 495.87 476.3 495.7 C480.13 495.53 483.32 495.88 486.8 495.7 C490.28 495.52 493.03 494.72 497.2 494.6 C501.37 494.48 506.58 494.58 511.8 495 C517.02 495.42 522.23 496.3 528.5 497.1 C534.77 497.9 542.43 499 549.4 499.8 C556.37 500.6 564.73 501.1 570.3 501.9 C575.87 502.7 578.63 504.15 582.8 504.6 C586.97 505.05 591.53 504.7 595.3 504.6 C599.07 504.5 601.97 504.8 605.4 504 C608.83 503.2 612.42 501.08 615.9 499.8 C619.38 498.52 622.82 497.1 626.3 496.3 C629.78 495.5 633.32 495.1 636.8 495 C640.28 494.9 643.72 495.25 647.2 495.7 C650.68 496.15 654.22 496.93 657.7 497.7 C661.18 498.47 664.98 499.6 668.1 500.3 C671.22 501 673.97 501.8 676.4 501.9 C678.83 502 679.57 501.35 682.7 500.9 C685.83 500.45 690.33 499.55 695.2 499.2 C700.07 498.85 705.98 499.05 711.9 498.8 C717.82 498.55 725.3 497.98 730.7 497.7 C736.1 497.42 742.03 497.2 744.3 497.1" fill="none" stroke="#0a0af5" stroke-width="2.4" stroke-linejoin="round" stroke-linecap="round" />
<path d="M447.8 546.4 C449.77 546.4 455.9 545.98 459.6 546.4 C463.3 546.82 466.87 548.13 470 548.9 C473.13 549.67 475.27 551.07 478.4 551 C481.53 550.93 485.32 548.78 488.8 548.5 C492.28 548.22 494.42 548.72 499.3 549.3 C504.18 549.88 511.48 551.1 518.1 552 C524.72 552.9 532.05 553.9 539 554.7 C545.95 555.5 552.85 556.2 559.8 556.8 C566.75 557.4 575.48 557.8 580.7 558.3 C585.92 558.8 588.32 559.45 591.1 559.8 C593.88 560.15 595.7 560.65 597.4 560.4 C599.1 560.15 599.62 559.52 601.3 558.3 C602.98 557.08 605.07 554.85 607.5 553.1 C609.93 551.35 612.77 548.85 615.9 547.8 C619.03 546.75 622.12 546.9 626.3 546.8 C630.48 546.7 635.77 546.85 641 547.2 C646.23 547.55 652.13 548.43 657.7 548.9 C663.27 549.37 670.23 550.07 674.4 550 C678.57 549.93 678.53 549.32 682.7 548.5 C686.87 547.68 693.13 545.8 699.4 545.1 C705.67 544.4 712.82 544.18 720.3 544.3 C727.78 544.42 740.3 545.55 744.3 545.8" fill="none" stroke="#ff10ff" stroke-width="2.4" stroke-linejoin="round" stroke-linecap="round" />
<line x1="483.4" y1="377" x2="483.4" y2="599" stroke="#7f7f7f" stroke-width="2.4" stroke-dasharray="10.4 8.8" stroke-dashoffset="0"/>
<line x1="596.6" y1="377" x2="596.6" y2="599" stroke="#7f7f7f" stroke-width="2.4" stroke-dasharray="10.4 8.8" stroke-dashoffset="0"/>
<line x1="680.4" y1="377" x2="680.4" y2="599" stroke="#7f7f7f" stroke-width="2.4" stroke-dasharray="10.4 8.8" stroke-dashoffset="0"/>
<text x="455.2" y="382.5" font-size="16.5" fill="#000" font-weight="bold" textLength="70.8" lengthAdjust="spacingAndGlyphs" >PCU-1H</text>
<text x="455.2" y="433.6" font-size="16.5" fill="#ea1620" font-weight="bold" textLength="72.2" lengthAdjust="spacingAndGlyphs" >PCU-1M</text>
<text x="455.2" y="486.5" font-size="16.5" fill="#1616e2" font-weight="bold" textLength="70.8" lengthAdjust="spacingAndGlyphs" >PCU-3H</text>
<text x="455.2" y="537.6" font-size="16.5" fill="#e41ee4" font-weight="bold" textLength="72.2" lengthAdjust="spacingAndGlyphs" >PCU-3M</text>
<text x="0" y="0" font-size="22.5" fill="#000" font-weight="bold" text-anchor="middle" textLength="46.6" lengthAdjust="spacingAndGlyphs" transform="translate(425.6 482.9) rotate(-90)">DTG</text>
<text x="509" y="646.3" font-size="22" fill="#000" font-weight="bold" textLength="180" lengthAdjust="spacingAndGlyphs" >Temperature (<tspan font-size="12.5" dy="-9.5">o</tspan><tspan dy="9.5">C)</tspan></text>
<text x="9.4" y="694.4" font-size="30" fill="#000" font-weight="bold" textLength="38" lengthAdjust="spacingAndGlyphs" >(d)</text>
<line x1="79.6" y1="699.7" x2="79.6" y2="934.3" stroke="#000" stroke-width="2.3" />
<line x1="78.5" y1="933.2" x2="375.9" y2="933.2" stroke="#000" stroke-width="2.3" />
<line x1="89.05" y1="933.2" x2="89.05" y2="940" stroke="#000" stroke-width="2.2" />
<text x="87.85" y="957.5" font-size="16.5" fill="#1a1a1a" text-anchor="middle" textLength="27.55" lengthAdjust="spacingAndGlyphs" >-20</text>
<line x1="127.2" y1="933.2" x2="127.2" y2="940" stroke="#000" stroke-width="2.2" />
<text x="127.2" y="957.5" font-size="16.5" fill="#1a1a1a" text-anchor="middle" textLength="9.85" lengthAdjust="spacingAndGlyphs" >0</text>
<line x1="165.35" y1="933.2" x2="165.35" y2="940" stroke="#000" stroke-width="2.2" />
<text x="165.35" y="957.5" font-size="16.5" fill="#1a1a1a" text-anchor="middle" textLength="19.7" lengthAdjust="spacingAndGlyphs" >20</text>
<line x1="203.5" y1="933.2" x2="203.5" y2="940" stroke="#000" stroke-width="2.2" />
<text x="203.5" y="957.5" font-size="16.5" fill="#1a1a1a" text-anchor="middle" textLength="19.7" lengthAdjust="spacingAndGlyphs" >40</text>
<line x1="241.65" y1="933.2" x2="241.65" y2="940" stroke="#000" stroke-width="2.2" />
<text x="241.65" y="957.5" font-size="16.5" fill="#1a1a1a" text-anchor="middle" textLength="19.7" lengthAdjust="spacingAndGlyphs" >60</text>
<line x1="279.8" y1="933.2" x2="279.8" y2="940" stroke="#000" stroke-width="2.2" />
<text x="279.8" y="957.5" font-size="16.5" fill="#1a1a1a" text-anchor="middle" textLength="19.7" lengthAdjust="spacingAndGlyphs" >80</text>
<line x1="317.95" y1="933.2" x2="317.95" y2="940" stroke="#000" stroke-width="2.2" />
<text x="317.95" y="957.5" font-size="16.5" fill="#1a1a1a" text-anchor="middle" textLength="29.55" lengthAdjust="spacingAndGlyphs" >100</text>
<line x1="356.1" y1="933.2" x2="356.1" y2="940" stroke="#000" stroke-width="2.2" />
<text x="356.1" y="957.5" font-size="16.5" fill="#1a1a1a" text-anchor="middle" textLength="29.55" lengthAdjust="spacingAndGlyphs" >120</text>
<path d="M79.6 783.5 L81.8 783.21 L84 782.8 L86.2 782.31 L88.4 781.8 L90.6 781.36 L92.8 780.88 L95 780.38 L97.2 779.84 L99.4 779.27 L101.6 778.68 L103.8 778.06 L106 777.39 L108.2 776.63 L110.4 775.74 L112.6 774.75 L114.8 773.67 L117 772.52 L119.2 771.33 L121.4 770.09 L123.6 768.77 L125.8 767.42 L128 766.05 L130.2 764.7 L132.4 763.4 L134.6 762.1 L136.8 760.81 L139 759.51 L141.2 758.2 L143.4 756.82 L145.6 755.42 L147.8 754.05 L150 752.78 L152.2 751.67 L154.4 750.72 L156.6 749.88 L158.8 749.07 L161 748.24 L163.2 747.34 L165.4 746.39 L167.6 745.46 L169.8 744.58 L172 743.8 L174.2 743.14 L176.4 742.58 L178.6 742.08 L180.8 741.62 L183 741.19 L185.2 740.82 L187.4 740.51 L189.6 740.21 L191.8 739.9 L194 739.53 L196.2 739.13 L198.4 738.63 L200.6 738.04 L202.8 737.81 L205 737.49 L207.2 737.15 L209.4 736.68 L211.6 736.42 L213.8 735.73 L216 735.63 L218.2 734.93 L220.4 734.15 L222.6 733.41 L224.8 733.61 L227 733.39 L229.2 732.18 L231.4 732.54 L233.6 731.81 L235.8 731.24 L238 731.09 L240.2 731.32 L242.4 731.27 L244.6 730.3 L246.8 730.62 L249 729.61 L251.2 729.81 L253.4 728.91 L255.6 728.88 L257.8 728.34 L260 727.19 L262.2 726.99 L264.4 725.61 L266.6 724.71 L268.8 724.61 L271 723.45 L273.2 723.04 L275.4 722.67 L277.6 722.31 L279.8 721.29 L282 720.63 L284.2 720.92 L286.4 719.84 L288.6 719.98 L290.8 719.42 L293 718.41 L295.2 718 L297.4 717.58 L299.6 717.25 L301.8 716.77 L304 716.33 L306.2 716.03 L308.4 716.01 L310.6 715.07 L312.8 714.62 L315 714.64 L317.2 713.99 L319.4 713.97 L321.6 714.7 L323.8 714.39 L326 714.57 L328.2 714.12 L330.4 714.6 L332.6 714.85 L334.8 714.31 L337 714.79 L339.2 714.47 L341.4 713.32 L343.6 713.22 L345.8 712.47 L348 712.32 L350.2 712.09 L352.4 712.71 L354.6 712.63 L356.8 711.26 L359 710.32 L361.2 709.74 L363.4 708.81 L365.6 707.01 L367.8 706.34 L370 705.74 L372.2 705 L374.4 704.73 L374.9 704.8" fill="none" stroke="#000" stroke-width="2.3" stroke-linejoin="round" stroke-linecap="round" />
<path d="M79.6 818.4 L81.8 818.16 L84 817.83 L86.2 817.43 L88.4 817 L90.6 816.64 L92.8 816.28 L95 815.86 L97.2 815.37 L99.4 814.82 L101.6 814.47 L103.8 814.08 L106 813.67 L108.2 813.23 L110.4 812.77 L112.6 812.3 L114.8 811.82 L117 811.33 L119.2 810.83 L121.4 810.34 L123.6 809.83 L125.8 809.31 L128 808.78 L130.2 808.24 L132.4 807.69 L134.6 807.13 L136.8 806.55 L139 805.96 L141.2 805.36 L143.4 804.75 L145.6 804.12 L147.8 803.48 L150 802.83 L152.2 802.16 L154.4 801.49 L156.6 800.8 L158.8 800.1 L161 799.39 L163.2 798.67 L165.4 797.94 L167.6 797.2 L169.8 796.44 L172 795.68 L174.2 794.9 L176.4 794.11 L178.6 793.31 L180.8 792.5 L183 791.68 L185.2 790.85 L187.4 790.02 L189.6 789.18 L191.8 788.34 L194 787.47 L196.2 786.57 L198.4 785.8 L200.6 784.69 L202.8 783.79 L205 782.89 L207.2 782.24 L209.4 781.23 L211.6 780.38 L213.8 779.72 L216 778.56 L218.2 777.83 L220.4 777.22 L222.6 775.73 L224.8 774.86 L227 774.22 L229.2 774.01 L231.4 773.07 L233.6 771.92 L235.8 771.34 L238 770.58 L240.2 770.28 L242.4 769.28 L244.6 769.31 L246.8 768.82 L249 768.09 L251.2 766.96 L253.4 766.18 L255.6 764.16 L257.8 763.29 L260 762.81 L262.2 761.45 L264.4 759.94 L266.6 759.37 L268.8 758 L271 757.21 L273.2 755.71 L275.4 754.64 L277.6 753.96 L279.8 752.74 L282 752.1 L284.2 751.84 L286.4 750.41 L288.6 749.34 L290.8 748.69 L293 748.18 L295.2 748.2 L297.4 747.23 L299.6 746.63 L301.8 745.94 L304 746.33 L306.2 745.29 L308.4 744.59 L310.6 743.94 L312.8 743.45 L315 743.08 L317.2 743.13 L319.4 742.15 L321.6 741.61 L323.8 741.66 L326 741.04 L328.2 741.45 L330.4 740.32 L332.6 740.54 L334.8 740.66 L337 740.18 L339.2 740.64 L341.4 739.97 L343.6 739.51 L345.8 739.35 L348 738.52 L350.2 738.26 L352.4 737.28 L354.6 737 L356.8 735.98 L359 734.7 L361.2 733.34 L363.4 732.8 L365.6 732.21 L367.8 731.74 L370 731.97 L372.2 733.4 L374.4 733.37 L374.9 733.8" fill="none" stroke="#ff0a14" stroke-width="2.3" stroke-linejoin="round" stroke-linecap="round" />
<path d="M79.6 852.8 L81.8 852.51 L84 852.13 L86.2 851.68 L88.4 851.18 L90.6 850.64 L92.8 850.08 L95 849.51 L97.2 848.96 L99.4 848.44 L101.6 847.74 L103.8 846.97 L106 846.19 L108.2 845.42 L110.4 844.64 L112.6 843.87 L114.8 843.11 L117 842.35 L119.2 841.59 L121.4 840.83 L123.6 840.07 L125.8 839.3 L128 838.39 L130.2 837.47 L132.4 836.54 L134.6 835.56 L136.8 834.48 L139 833.14 L141.2 831.7 L143.4 830.22 L145.6 828.76 L147.8 827.31 L150 825.83 L152.2 824.38 L154.4 823.03 L156.6 821.65 L158.8 820.33 L161 819.14 L163.2 818.02 L165.4 816.99 L167.6 816.08 L169.8 815.21 L172 814.48 L174.2 813.76 L176.4 813.03 L178.6 812.33 L180.8 811.81 L183 811.29 L185.2 810.76 L187.4 810.25 L189.6 809.77 L191.8 809.31 L194 808.96 L196.2 808.61 L198.4 808.27 L200.6 807.93 L202.8 807.5 L205 806.84 L207.2 806.8 L209.4 805.91 L211.6 805.8 L213.8 805.36 L216 804.32 L218.2 804.29 L220.4 803.44 L222.6 803.06 L224.8 802.04 L227 801.54 L229.2 801.15 L231.4 801.4 L233.6 800.12 L235.8 800.15 L238 799.78 L240.2 799.24 L242.4 798.08 L244.6 797.51 L246.8 797.08 L249 796.73 L251.2 795.45 L253.4 795.46 L255.6 794.86 L257.8 794.27 L260 792.78 L262.2 793.01 L264.4 791.48 L266.6 791.05 L268.8 790.64 L271 790.26 L273.2 788.98 L275.4 788.84 L277.6 787.72 L279.8 786.74 L282 786 L284.2 785.12 L286.4 784.3 L288.6 783.68 L290.8 783.56 L293 783.26 L295.2 781.68 L297.4 780.77 L299.6 781.01 L301.8 779.91 L304 779.16 L306.2 778.37 L308.4 778.07 L310.6 777.79 L312.8 776.91 L315 776.35 L317.2 775.47 L319.4 775.81 L321.6 774.42 L323.8 774.38 L326 774.24 L328.2 773.07 L330.4 773.24 L332.6 773.06 L334.8 772.37 L337 772.17 L339.2 771.12 L341.4 771.05 L343.6 770.34 L345.8 770.56 L348 769.46 L350.2 768.97 L352.4 768.76 L354.6 767.8 L356.8 767.08 L359 765.74 L361.2 765 L363.4 764.57 L365.6 763.76 L367.8 763.06 L370 762.94 L372.2 762.9 L374.4 763.36 L374.9 763.5" fill="none" stroke="#0a0af5" stroke-width="2.3" stroke-linejoin="round" stroke-linecap="round" />
<path d="M79.6 886 L81.8 885.67 L84 885.25 L86.2 884.75 L88.4 884.19 L90.6 883.58 L92.8 882.95 L95 882.31 L97.2 881.67 L99.4 881.07 L101.6 880.51 L103.8 879.93 L106 879.33 L108.2 878.73 L110.4 878.12 L112.6 877.51 L114.8 876.89 L117 876.28 L119.2 875.67 L121.4 875.06 L123.6 874.47 L125.8 873.89 L128 873.3 L130.2 872.71 L132.4 872.12 L134.6 871.51 L136.8 870.88 L139 870.22 L141.2 869.54 L143.4 868.82 L145.6 868.05 L147.8 867.25 L150 866.44 L152.2 865.63 L154.4 864.83 L156.6 864.04 L158.8 863.29 L161 862.58 L163.2 861.92 L165.4 861.28 L167.6 860.66 L169.8 860.06 L172 859.49 L174.2 858.94 L176.4 858.41 L178.6 857.91 L180.8 857.43 L183 856.87 L185.2 856.14 L187.4 855.55 L189.6 854.98 L191.8 854.36 L194 853.58 L196.2 852.94 L198.4 852.1 L200.6 851.15 L202.8 850.1 L205 849.08 L207.2 848.28 L209.4 847.76 L211.6 846.73 L213.8 845.27 L216 844.83 L218.2 843.19 L220.4 842.46 L222.6 842.06 L224.8 840.76 L227 839.07 L229.2 837.79 L231.4 836.48 L233.6 834.88 L235.8 834.72 L238 832.46 L240.2 831.64 L242.4 831.12 L244.6 829.6 L246.8 828.41 L249 826.29 L251.2 825.85 L253.4 824.26 L255.6 822.38 L257.8 820.95 L260 818.71 L262.2 817.48 L264.4 815.83 L266.6 814 L268.8 812.63 L271 811.6 L273.2 809.6 L275.4 808.02 L277.6 807.87 L279.8 806.45 L282 805.78 L284.2 805.09 L286.4 803.32 L288.6 802.14 L290.8 801.31 L293 800.98 L295.2 799.9 L297.4 799.07 L299.6 798.66 L301.8 798.62 L304 797.2 L306.2 796.74 L308.4 796.61 L310.6 795.57 L312.8 794.45 L315 794.06 L317.2 793.54 L319.4 792.77 L321.6 792.85 L323.8 792.64 L326 793.1 L328.2 792.27 L330.4 792.23 L332.6 792.02 L334.8 791.3 L337 789.93 L339.2 789.48 L341.4 788.47 L343.6 787.92 L345.8 787.41 L348 787.14 L350.2 786.65 L352.4 785.15 L354.6 783.99 L356.8 783.58 L359 782.13 L361.2 781.17 L363.4 781.26 L365.6 779.47 L367.8 779.38 L370 778.74 L372.2 779.85 L374.4 780.25 L375 779.9" fill="none" stroke="#ff10ff" stroke-width="2.3" stroke-linejoin="round" stroke-linecap="round" />
<line x1="155.2" y1="747.6" x2="161.5" y2="755.3" stroke="#000" stroke-width="2.2" />
<line x1="262.3" y1="754.7" x2="267.6" y2="763.1" stroke="#000" stroke-width="2.2" />
<line x1="169.9" y1="812.8" x2="175.1" y2="820.5" stroke="#000" stroke-width="2.2" />
<line x1="271.7" y1="807.6" x2="277.5" y2="815.8" stroke="#000" stroke-width="2.2" />
<text x="145.9" y="773.5" font-size="16" fill="#222" textLength="40.7" lengthAdjust="spacingAndGlyphs" >12 <tspan font-size="10.5" dy="-6">o</tspan><tspan dy="6">C</tspan></text>
<text x="273.5" y="769" font-size="16" fill="#222" textLength="42.3" lengthAdjust="spacingAndGlyphs" >67 <tspan font-size="10.5" dy="-6">o</tspan><tspan dy="6">C</tspan></text>
<text x="159.8" y="842.7" font-size="16" fill="#222" textLength="40.3" lengthAdjust="spacingAndGlyphs" >14 <tspan font-size="10.5" dy="-6">o</tspan><tspan dy="6">C</tspan></text>
<text x="281.1" y="825.2" font-size="16" fill="#222" textLength="41.5" lengthAdjust="spacingAndGlyphs" >69 <tspan font-size="10.5" dy="-6">o</tspan><tspan dy="6">C</tspan></text>
<text x="256.3" y="862.6" font-size="16" fill="#000" font-weight="bold" textLength="63.1" lengthAdjust="spacingAndGlyphs" >PCU-1H</text>
<line x1="325.5" y1="854.2" x2="372" y2="854.2" stroke="#000" stroke-width="2.6" />
<text x="256.3" y="883.4" font-size="16" fill="#ea1620" font-weight="bold" textLength="67.1" lengthAdjust="spacingAndGlyphs" >PCU-1M</text>
<line x1="325.5" y1="876" x2="372" y2="876" stroke="#ff0a14" stroke-width="2.6" />
<text x="256.3" y="904" font-size="16" fill="#1616e2" font-weight="bold" textLength="63.1" lengthAdjust="spacingAndGlyphs" >PCU-3H</text>
<line x1="325.5" y1="899.5" x2="372" y2="899.5" stroke="#0a0af5" stroke-width="2.6" />
<text x="256.3" y="924.8" font-size="16" fill="#e41ee4" font-weight="bold" textLength="67.1" lengthAdjust="spacingAndGlyphs" >PCU-3M</text>
<line x1="325.5" y1="921" x2="372" y2="921" stroke="#ff10ff" stroke-width="2.6" />
<text x="0" y="0" font-size="22" fill="#000" font-weight="bold" text-anchor="middle" textLength="195.5" lengthAdjust="spacingAndGlyphs" transform="translate(58 822.6) rotate(-90)">Heat flow (exo up)</text>
<text x="138.5" y="981" font-size="22" fill="#000" font-weight="bold" textLength="179" lengthAdjust="spacingAndGlyphs" >Temperature (<tspan font-size="12.5" dy="-9.5">o</tspan><tspan dy="9.5">C)</tspan></text>
<text x="395.8" y="694.3" font-size="30" fill="#000" font-weight="bold" textLength="36.5" lengthAdjust="spacingAndGlyphs" >(e)</text>
<rect x="447.3" y="685.3" width="119.5" height="118.2" fill="url(#bgg)"/>
<rect x="612" y="685.3" width="119.6" height="118.5" fill="url(#bgg2)"/>
<rect x="447.3" y="840.3" width="119.5" height="118.3" fill="url(#bgg)"/>
<rect x="612" y="840.3" width="119.6" height="118.3" fill="url(#bgg)"/>
<g filter="url(#soft)">
<path d="M452.3 694 L556 691.2 L561.7 795.6 L454 799.7 Z" fill="#3b3133"/>
<path d="M452.3 694 L556 691.2 L561.7 795.6 L454 799.7 Z" fill="url(#f1l)"/>
<path d="M452.3 694 L556 691.2 L561.7 795.6 L454 799.7 Z" fill="url(#grid1)"/>
</g>
<g filter="url(#blur3)" opacity="0.75"><path d="M452 692 L468 692 L462 699 L452 701 Z" fill="#a07030"/><path d="M546 691 L557 690 L558 703 Z" fill="#a07434"/><path d="M453 786 L466 800 L453 800 Z" fill="#94662c"/></g>
<path d="M482.5 692.5 L486 692.5 L480 704 L478 703 Z" fill="#c8a060" filter="url(#blur1)" opacity="0.9"/>
<g filter="url(#soft)">
<path d="M617.3 696.9 L716.9 692 L723.4 791.5 L622.2 797.2 Z" fill="url(#f2r)"/>
<path d="M617.3 696.9 L716.9 692 L723.4 791.5 L622.2 797.2 Z" fill="url(#dots2)"/>
<path d="M617.3 696.9 L716.9 692 L723.4 791.5 L622.2 797.2 Z" fill="none" stroke="#a0601a" stroke-width="2"/>
<circle cx="665.4" cy="750.6" r="0.68" fill="#f0c090" fill-opacity="0.44"/><circle cx="670.8" cy="753.2" r="0.46" fill="#f0c090" fill-opacity="0.45"/><circle cx="682.5" cy="772.5" r="0.43" fill="#f0c090" fill-opacity="0.39"/><circle cx="630.7" cy="774.1" r="0.61" fill="#f0c090" fill-opacity="0.31"/><circle cx="716.3" cy="788.7" r="0.60" fill="#f0c090" fill-opacity="0.48"/><circle cx="637.1" cy="699.4" r="0.56" fill="#f0c090" fill-opacity="0.32"/><circle cx="640.3" cy="720.7" r="0.41" fill="#f0c090" fill-opacity="0.44"/><circle cx="664.3" cy="777.2" r="0.56" fill="#f0c090" fill-opacity="0.49"/><circle cx="670.0" cy="760.3" r="0.54" fill="#f0c090" fill-opacity="0.38"/><circle cx="717.8" cy="791.6" r="0.65" fill="#f0c090" fill-opacity="0.51"/><circle cx="652.3" cy="719.6" r="0.49" fill="#f0c090" fill-opacity="0.32"/><circle cx="695.6" cy="735.6" r="0.65" fill="#f0c090" fill-opacity="0.42"/><circle cx="714.0" cy="777.6" r="0.40" fill="#f0c090" fill-opacity="0.36"/><circle cx="709.4" cy="742.2" r="0.69" fill="#f0c090" fill-opacity="0.42"/><circle cx="629.0" cy="757.2" r="0.63" fill="#f0c090" fill-opacity="0.38"/><circle cx="630.4" cy="729.3" r="0.69" fill="#f0c090" fill-opacity="0.53"/><circle cx="633.3" cy="721.2" r="0.43" fill="#f0c090" fill-opacity="0.32"/><circle cx="698.5" cy="714.7" r="0.57" fill="#f0c090" fill-opacity="0.43"/><circle cx="640.3" cy="766.8" r="0.44" fill="#f0c090" fill-opacity="0.49"/><circle cx="633.2" cy="737.6" r="0.46" fill="#f0c090" fill-opacity="0.38"/><circle cx="715.2" cy="773.5" r="0.49" fill="#f0c090" fill-opacity="0.57"/><circle cx="642.2" cy="735.1" r="0.66" fill="#f0c090" fill-opacity="0.49"/><circle cx="631.6" cy="791.0" r="0.46" fill="#f0c090" fill-opacity="0.38"/><circle cx="696.2" cy="728.9" r="0.49" fill="#f0c090" fill-opacity="0.32"/><circle cx="630.7" cy="752.8" r="0.47" fill="#f0c090" fill-opacity="0.48"/><circle cx="657.7" cy="740.6" r="0.69" fill="#f0c090" fill-opacity="0.45"/><circle cx="677.2" cy="779.5" r="0.45" fill="#f0c090" fill-opacity="0.35"/><circle cx="709.2" cy="774.9" r="0.47" fill="#f0c090" fill-opacity="0.36"/><circle cx="693.0" cy="786.4" r="0.46" fill="#f0c090" fill-opacity="0.59"/><circle cx="706.7" cy="754.7" r="0.53" fill="#f0c090" fill-opacity="0.33"/><circle cx="625.7" cy="788.5" r="0.47" fill="#f0c090" fill-opacity="0.51"/><circle cx="646.7" cy="775.4" r="0.58" fill="#f0c090" fill-opacity="0.39"/><circle cx="638.8" cy="765.7" r="0.42" fill="#f0c090" fill-opacity="0.37"/><circle cx="675.7" cy="778.1" r="0.58" fill="#f0c090" fill-opacity="0.38"/><circle cx="710.1" cy="717.2" r="0.40" fill="#f0c090" fill-opacity="0.38"/><circle cx="664.8" cy="703.7" r="0.45" fill="#f0c090" fill-opacity="0.41"/><circle cx="676.9" cy="710.4" r="0.51" fill="#f0c090" fill-opacity="0.57"/><circle cx="716.1" cy="759.8" r="0.61" fill="#f0c090" fill-opacity="0.48"/><circle cx="635.5" cy="701.3" r="0.41" fill="#f0c090" fill-opacity="0.57"/><circle cx="689.3" cy="788.5" r="0.41" fill="#f0c090" fill-opacity="0.49"/><circle cx="668.3" cy="766.7" r="0.50" fill="#f0c090" fill-opacity="0.60"/><circle cx="629.2" cy="749.3" r="0.62" fill="#f0c090" fill-opacity="0.57"/><circle cx="692.8" cy="764.1" r="0.64" fill="#f0c090" fill-opacity="0.57"/><circle cx="655.8" cy="762.4" r="0.67" fill="#f0c090" fill-opacity="0.56"/><circle cx="662.0" cy="772.3" r="0.66" fill="#f0c090" fill-opacity="0.47"/><circle cx="682.0" cy="733.9" r="0.57" fill="#f0c090" fill-opacity="0.48"/><circle cx="629.7" cy="758.1" r="0.70" fill="#f0c090" fill-opacity="0.56"/><circle cx="691.9" cy="734.5" r="0.62" fill="#f0c090" fill-opacity="0.47"/><circle cx="664.3" cy="776.8" r="0.43" fill="#f0c090" fill-opacity="0.53"/><circle cx="624.9" cy="754.5" r="0.54" fill="#f0c090" fill-opacity="0.37"/><circle cx="689.0" cy="744.7" r="0.58" fill="#f0c090" fill-opacity="0.58"/><circle cx="646.6" cy="699.1" r="0.49" fill="#f0c090" fill-opacity="0.50"/><circle cx="641.4" cy="713.9" r="0.67" fill="#f0c090" fill-opacity="0.50"/><circle cx="664.4" cy="781.8" r="0.50" fill="#f0c090" fill-opacity="0.50"/><circle cx="641.1" cy="738.5" r="0.64" fill="#f0c090" fill-opacity="0.57"/><circle cx="706.5" cy="734.1" r="0.57" fill="#f0c090" fill-opacity="0.39"/><circle cx="635.1" cy="744.7" r="0.65" fill="#f0c090" fill-opacity="0.55"/><circle cx="690.3" cy="787.3" r="0.48" fill="#f0c090" fill-opacity="0.35"/><circle cx="665.3" cy="723.9" r="0.46" fill="#f0c090" fill-opacity="0.42"/><circle cx="682.1" cy="744.4" r="0.49" fill="#f0c090" fill-opacity="0.55"/><circle cx="716.3" cy="740.5" r="0.42" fill="#f0c090" fill-opacity="0.31"/><circle cx="705.8" cy="701.9" r="0.61" fill="#f0c090" fill-opacity="0.47"/><circle cx="651.7" cy="772.4" r="0.41" fill="#f0c090" fill-opacity="0.34"/><circle cx="665.7" cy="700.3" r="0.65" fill="#f0c090" fill-opacity="0.37"/><circle cx="635.5" cy="702.4" r="0.59" fill="#f0c090" fill-opacity="0.43"/><circle cx="682.5" cy="759.6" r="0.64" fill="#f0c090" fill-opacity="0.59"/><circle cx="687.7" cy="716.7" r="0.54" fill="#f0c090" fill-opacity="0.35"/><circle cx="623.0" cy="742.4" r="0.61" fill="#f0c090" fill-opacity="0.35"/><circle cx="648.1" cy="730.5" r="0.61" fill="#f0c090" fill-opacity="0.46"/><circle cx="681.0" cy="769.1" r="0.52" fill="#f0c090" fill-opacity="0.54"/>
</g>
<path d="M456 847 L452.8 852 L453.5 900 L452.5 950 L456 957.5 L500 957.8 L530 956.5 L548 953 L540 951 L456 951 Z" fill="#c4a048" filter="url(#blur1)"/>
<path d="M455 846.5 L470 845.8 L472 848.6 L455 848.6 Z" fill="#c4a048" filter="url(#blur1)" opacity="0.7"/>
<g filter="url(#soft)">
<path d="M455 848.4 L562.5 850.9 L561.7 951.7 L455.6 951.7 Z" fill="url(#f3r)"/>
<path d="M455 848.4 L562.5 850.9 L561.7 951.7 L455.6 951.7 Z" fill="url(#grid3)"/>
<g clip-path="url(#c3)"><rect x="455" y="848" width="108" height="106" filter="url(#mottle3)" opacity="0.16"/></g>
</g>
<g filter="url(#soft)">
<path d="M617.3 846.8 L726.7 846 L725.9 952 L618.2 953.7 Z" fill="#4a2422"/>
<path d="M617.3 846.8 L726.7 846 L725.9 952 L618.2 953.7 Z" fill="url(#grid4)"/>
<g clip-path="url(#c4)"><rect x="617" y="846" width="110" height="108" filter="url(#mottle4)" opacity="0.14"/></g>
</g>
<text x="452.4" y="827.8" font-size="17.5" fill="#000" font-weight="bold" textLength="106.8" lengthAdjust="spacingAndGlyphs" >PCU-1H film</text>
<text x="616.5" y="827.6" font-size="17.5" fill="#000" font-weight="bold" textLength="108.8" lengthAdjust="spacingAndGlyphs" >PCU-1M film</text>
<text x="452.9" y="980.4" font-size="17.5" fill="#000" font-weight="bold" textLength="105.7" lengthAdjust="spacingAndGlyphs" >PCU-3H film</text>
<text x="616.5" y="980.4" font-size="17.5" fill="#000" font-weight="bold" textLength="108.8" lengthAdjust="spacingAndGlyphs" >PCU-3M film</text>
</svg></body></html>
